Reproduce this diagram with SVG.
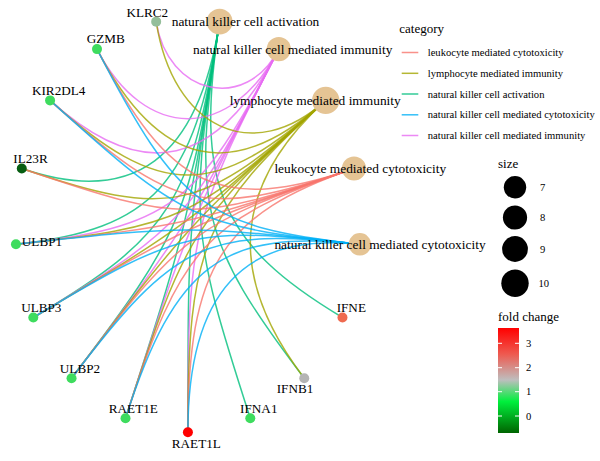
<svg xmlns="http://www.w3.org/2000/svg" width="600" height="461" viewBox="0 0 600 461" font-family="'Liberation Serif', 'Times New Roman', 'DejaVu Serif', serif">
<defs>
<style>
text{fill:#000}
.e{fill:none;stroke-width:1.5;stroke-opacity:.8}
.act{stroke:#00BF7D}.imm{stroke:#E76BF3}.lym{stroke:#A3A500}.leu{stroke:#F8766D}.cyt{stroke:#00B0F6}
.cat{fill:#E5C494}
.cl{font-size:13.4px;text-anchor:middle}
.gl{font-size:13.2px;text-anchor:middle}
.lt{font-size:13px}
.ll{font-size:10.6px}
.tk{stroke:#fff;stroke-width:1}
</style>
<linearGradient id="fc" x1="0" y1="0" x2="0" y2="1">
<stop offset="0" stop-color="#FF0000"/>
<stop offset="0.25" stop-color="#EE5A50"/>
<stop offset="0.495" stop-color="#BEBEBE"/>
<stop offset="0.70" stop-color="#00F03C"/>
<stop offset="1" stop-color="#006400"/>
</linearGradient>
</defs>
<rect width="600" height="461" fill="#fff"/>
<g id="edges">
<g id="edges-nk-activation">
<path class="e act" d="M21.79,168.52 C133.70,206.71 198.25,158.78 219.63,21.63"/>
<path class="e act" d="M15.94,244.31 C153.17,229.06 194.31,184.08 219.63,21.63"/>
<path class="e act" d="M33.31,317.51 C171.69,234.88 191.23,203.86 219.63,21.63"/>
<path class="e act" d="M71.55,378.25 C183.46,231.04 189.11,217.43 219.63,21.63"/>
<path class="e act" d="M125.51,418.31 C187.63,226.02 188.04,224.33 219.63,21.63"/>
<path class="e act" d="M187.9,432.3 C187.9,226.08 188.04,224.33 219.63,21.63"/>
<path class="e act" d="M250.29,418.31 C190.28,232.57 189.11,217.43 219.63,21.63"/>
<path class="e act" d="M304.25,378.25 C200.10,241.25 191.23,203.86 219.63,21.63"/>
<path class="e act" d="M342.49,317.51 C219.12,243.84 194.31,184.08 219.63,21.63"/>
</g>
<g id="edges-nk-immunity">
<path class="e imm" d="M156.17,21.63 C167.63,95.17 245.97,112.73 278.81,49.12"/>
<path class="e imm" d="M96.99,49.12 C144.85,141.81 230.95,141.81 278.81,49.12"/>
<path class="e imm" d="M50.08,100.40 C142.93,184.48 217.56,167.75 278.81,49.12"/>
<path class="e imm" d="M15.94,244.31 C169.87,227.20 197.43,206.74 278.81,49.12"/>
<path class="e imm" d="M33.31,317.51 C182.00,228.72 191.37,218.48 278.81,49.12"/>
<path class="e imm" d="M71.55,378.25 C187.40,225.85 188.29,224.45 278.81,49.12"/>
<path class="e imm" d="M125.51,418.31 C187.63,226.02 188.29,224.45 278.81,49.12"/>
<path class="e imm" d="M187.9,432.3 C187.9,233.10 191.37,218.48 278.81,49.12"/>
</g>
<g id="edges-lymphocyte">
<path class="e lym" d="M156.17,21.63 C172.87,128.80 253.17,166.10 325.72,100.40"/>
<path class="e lym" d="M96.99,49.12 C158.24,167.75 232.87,184.48 325.72,100.40"/>
<path class="e lym" d="M50.08,100.40 C160.06,199.99 215.74,199.99 325.72,100.40"/>
<path class="e lym" d="M21.79,168.52 C170.48,219.26 202.35,212.12 325.72,100.40"/>
<path class="e lym" d="M15.94,244.31 C181.34,225.93 193.16,220.44 325.72,100.40"/>
<path class="e lym" d="M33.31,317.51 C187.24,225.59 188.49,224.67 325.72,100.40"/>
<path class="e lym" d="M71.55,378.25 C187.40,225.85 188.49,224.67 325.72,100.40"/>
<path class="e lym" d="M125.51,418.31 C185.52,232.57 193.16,220.44 325.72,100.40"/>
<path class="e lym" d="M187.9,432.3 C187.9,246.91 202.35,212.12 325.72,100.40"/>
<path class="e lym" d="M304.25,378.25 C225.87,275.14 232.87,184.48 325.72,100.40"/>
</g>
<g id="edges-leukocyte">
<path class="e leu" d="M96.99,49.12 C169.54,189.64 221.45,213.75 354.01,168.52"/>
<path class="e leu" d="M50.08,100.40 C173.45,212.12 205.32,219.26 354.01,168.52"/>
<path class="e leu" d="M21.79,168.52 C181.56,223.04 194.24,223.04 354.01,168.52"/>
<path class="e leu" d="M15.94,244.31 C187.17,225.28 188.61,224.96 354.01,168.52"/>
<path class="e leu" d="M33.31,317.51 C187.24,225.59 188.61,224.96 354.01,168.52"/>
<path class="e leu" d="M71.55,378.25 C183.46,231.04 194.24,223.04 354.01,168.52"/>
<path class="e leu" d="M125.51,418.31 C181.36,245.45 205.32,219.26 354.01,168.52"/>
<path class="e leu" d="M187.9,432.3 C187.9,267.03 221.45,213.75 354.01,168.52"/>
</g>
<g id="edges-nk-cytotoxicity">
<path class="e cyt" d="M96.99,49.12 C178.37,206.74 205.93,227.20 359.86,244.31"/>
<path class="e cyt" d="M50.08,100.40 C182.64,220.44 194.46,225.93 359.86,244.31"/>
<path class="e cyt" d="M15.94,244.31 C187.17,225.28 188.63,225.28 359.86,244.31"/>
<path class="e cyt" d="M33.31,317.51 C182.00,228.72 194.46,225.93 359.86,244.31"/>
<path class="e cyt" d="M71.55,378.25 C175.70,241.25 205.93,227.20 359.86,244.31"/>
<path class="e cyt" d="M125.51,418.31 C175.30,264.20 222.63,229.06 359.86,244.31"/>
<path class="e cyt" d="M187.9,432.3 C187.9,292.78 244.01,231.44 359.86,244.31"/>
</g>
</g>
<g id="node-nk-activation"><circle class="cat" cx="219.63" cy="21.63" r="12.9"/><text class="cl" x="245.5" y="26.3">natural killer cell activation</text></g>
<g id="node-nk-immunity"><circle class="cat" cx="278.81" cy="49.12" r="12.1"/><text class="cl" x="292.7" y="54.2">natural killer cell mediated immunity</text></g>
<g id="node-lymphocyte"><circle class="cat" cx="325.72" cy="100.4" r="13.7"/><text class="cl" x="315.2" y="105">lymphocyte mediated immunity</text></g>
<g id="node-leukocyte"><circle class="cat" cx="354.01" cy="168.52" r="12.1"/><text class="cl" x="360.3" y="173">leukocyte mediated cytotoxicity</text></g>
<g id="node-nk-cytotoxicity"><circle class="cat" cx="359.86" cy="244.31" r="11.2"/><text class="cl" x="380" y="248.8">natural killer cell mediated cytotoxicity</text></g>
<g id="node-KLRC2"><circle cx="156.17" cy="21.63" r="5" fill="#94BE9A"/><text class="gl" x="147.3" y="16.8">KLRC2</text></g>
<g id="node-GZMB"><circle cx="96.99" cy="49.12" r="5" fill="#3EDC5E"/><text class="gl" x="105.8" y="43.3">GZMB</text></g>
<g id="node-KIR2DL4"><circle cx="50.08" cy="100.4" r="5" fill="#3EDC5E"/><text class="gl" x="58.7" y="95">KIR2DL4</text></g>
<g id="node-IL23R"><circle cx="21.79" cy="168.52" r="5" fill="#075E12"/><text class="gl" x="30.5" y="163.3">IL23R</text></g>
<g id="node-ULBP1"><circle cx="15.94" cy="244.31" r="5" fill="#3EDC5E"/><text class="gl" x="42" y="245.5">ULBP1</text></g>
<g id="node-ULBP3"><circle cx="33.31" cy="317.51" r="5" fill="#3EDC5E"/><text class="gl" x="41.3" y="312.3">ULBP3</text></g>
<g id="node-ULBP2"><circle cx="71.55" cy="378.25" r="5" fill="#3EDC5E"/><text class="gl" x="80" y="373.3">ULBP2</text></g>
<g id="node-RAET1E"><circle cx="125.51" cy="418.31" r="5" fill="#3EDC5E"/><text class="gl" x="133.3" y="413.3">RAET1E</text></g>
<g id="node-RAET1L"><circle cx="187.9" cy="432.3" r="5" fill="#FF0000"/><text class="gl" x="196.3" y="448.3">RAET1L</text></g>
<g id="node-IFNA1"><circle cx="250.29" cy="418.31" r="5" fill="#3EDC5E"/><text class="gl" x="258.8" y="413.3">IFNA1</text></g>
<g id="node-IFNB1"><circle cx="304.25" cy="378.25" r="5" fill="#B4B4B4"/><text class="gl" x="295" y="393.3">IFNB1</text></g>
<g id="node-IFNE"><circle cx="342.49" cy="317.51" r="5" fill="#EF6A4F"/><text class="gl" x="351.3" y="312.3">IFNE</text></g>
<g id="legend-category">
<text class="lt" x="399.3" y="32.7">category</text>
<line class="e leu" x1="401.7" y1="52.5" x2="418.3" y2="52.5"/>
<line class="e lym" x1="401.7" y1="73.3" x2="418.3" y2="73.3"/>
<line class="e act" x1="401.7" y1="94" x2="418.3" y2="94"/>
<line class="e cyt" x1="401.7" y1="114.8" x2="418.3" y2="114.8"/>
<line class="e imm" x1="401.7" y1="135.5" x2="418.3" y2="135.5"/>
<text class="ll" x="427.7" y="56">leukocyte mediated cytotoxicity</text>
<text class="ll" x="427.7" y="76.8">lymphocyte mediated immunity</text>
<text class="ll" x="427.7" y="97.5">natural killer cell activation</text>
<text class="ll" x="427.7" y="118.3">natural killer cell mediated cytotoxicity</text>
<text class="ll" x="427.7" y="139">natural killer cell mediated immunity</text>
</g>
<g id="legend-size">
<text class="lt" x="498" y="168">size</text>
<circle cx="515" cy="187.3" r="11.2"/>
<circle cx="515" cy="217.5" r="12.1"/>
<circle cx="515" cy="249" r="12.9"/>
<circle cx="515" cy="283.3" r="13.7"/>
<text class="ll" x="540" y="191">7</text>
<text class="ll" x="540" y="221.2">8</text>
<text class="ll" x="540" y="252.7">9</text>
<text class="ll" x="538.5" y="287">10</text>
</g>
<g id="legend-fold-change">
<text class="lt" x="498" y="321">fold change</text>
<rect x="498" y="328" width="21" height="105" fill="url(#fc)"/>
<line class="tk" x1="498" y1="343.3" x2="502" y2="343.3"/><line class="tk" x1="515" y1="343.3" x2="519" y2="343.3"/>
<line class="tk" x1="498" y1="367.7" x2="502" y2="367.7"/><line class="tk" x1="515" y1="367.7" x2="519" y2="367.7"/>
<line class="tk" x1="498" y1="391.7" x2="502" y2="391.7"/><line class="tk" x1="515" y1="391.7" x2="519" y2="391.7"/>
<line class="tk" x1="498" y1="416" x2="502" y2="416"/><line class="tk" x1="515" y1="416" x2="519" y2="416"/>
<text class="ll" x="526" y="347">3</text>
<text class="ll" x="526" y="371.4">2</text>
<text class="ll" x="526" y="395.4">1</text>
<text class="ll" x="526" y="419.7">0</text>
</g>
</svg>
